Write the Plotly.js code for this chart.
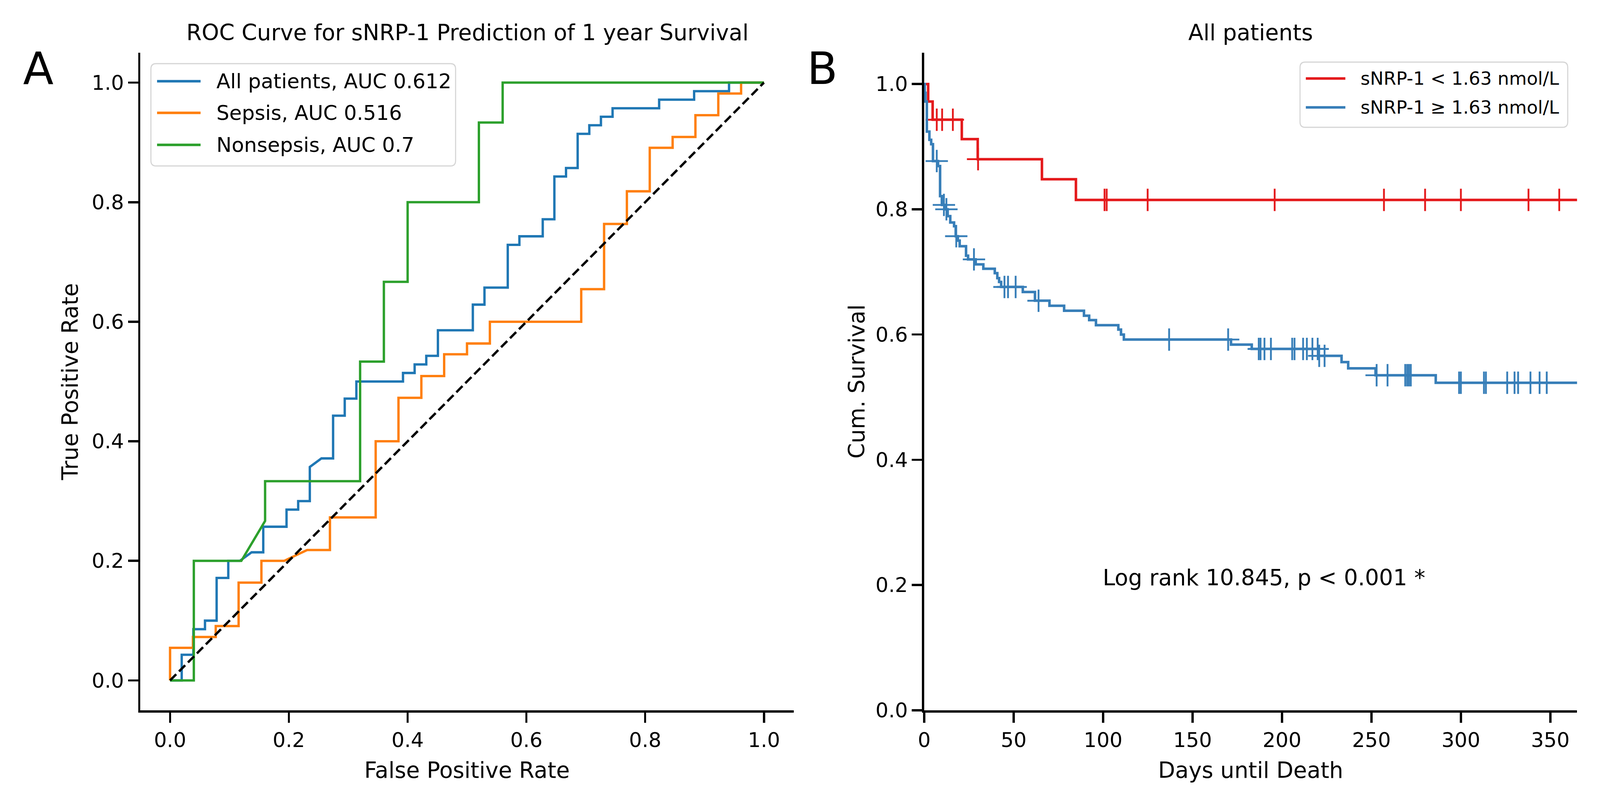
<!DOCTYPE html>
<html>
<head>
<meta charset="utf-8">
<script src="https://cdn.plot.ly/plotly-3.0.1.min.js"></script>
<style>html,body{margin:0;padding:0;background:#fff;overflow:hidden;}</style>
</head>
<body>
<div id="chart"></div>
<script>
// ---------------- DATA ----------------
// Panel A: ROC curves (false positive rate, true positive rate)
const rocAllFpr = [0, 0.0196, 0.0196, 0.0392, 0.0392, 0.0588, 0.0588, 0.0784, 0.0784, 0.0980, 0.0980, 0.1176, 0.1373, 0.1569, 0.1569, 0.1961, 0.1961, 0.2157, 0.2157, 0.2353, 0.2353, 0.2549, 0.2745, 0.2745, 0.2941, 0.2941, 0.3137, 0.3137, 0.3922, 0.3922, 0.4118, 0.4118, 0.4314, 0.4314, 0.4510, 0.4510, 0.5098, 0.5098, 0.5294, 0.5294, 0.5686, 0.5686, 0.5882, 0.5882, 0.6275, 0.6275, 0.6471, 0.6471, 0.6667, 0.6667, 0.6863, 0.6863, 0.7059, 0.7059, 0.7255, 0.7255, 0.7451, 0.7451, 0.8235, 0.8235, 0.8824, 0.8824, 0.9412, 0.9412, 1.0];
const rocAllTpr = [0, 0, 0.0429, 0.0429, 0.0857, 0.0857, 0.1000, 0.1000, 0.1714, 0.1714, 0.2000, 0.2000, 0.2143, 0.2143, 0.2571, 0.2571, 0.2857, 0.2857, 0.3000, 0.3000, 0.3571, 0.3714, 0.3714, 0.4429, 0.4429, 0.4714, 0.4714, 0.5000, 0.5000, 0.5143, 0.5143, 0.5286, 0.5286, 0.5429, 0.5429, 0.5857, 0.5857, 0.6286, 0.6286, 0.6571, 0.6571, 0.7286, 0.7286, 0.7429, 0.7429, 0.7714, 0.7714, 0.8429, 0.8429, 0.8571, 0.8571, 0.9143, 0.9143, 0.9286, 0.9286, 0.9429, 0.9429, 0.9571, 0.9571, 0.9714, 0.9714, 0.9857, 0.9857, 1.0, 1.0];

const rocSepsisFpr = [0, 0, 0.0385, 0.0385, 0.0769, 0.0769, 0.1154, 0.1154, 0.1538, 0.1538, 0.1923, 0.2308, 0.2692, 0.2692, 0.3462, 0.3462, 0.3846, 0.3846, 0.4231, 0.4231, 0.4615, 0.4615, 0.5000, 0.5000, 0.5385, 0.5385, 0.6923, 0.6923, 0.7308, 0.7308, 0.7692, 0.7692, 0.8077, 0.8077, 0.8462, 0.8462, 0.8846, 0.8846, 0.9231, 0.9231, 0.9615, 0.9615, 1.0];
const rocSepsisTpr = [0, 0.0545, 0.0545, 0.0727, 0.0727, 0.0909, 0.0909, 0.1636, 0.1636, 0.2000, 0.2000, 0.2182, 0.2182, 0.2727, 0.2727, 0.4000, 0.4000, 0.4727, 0.4727, 0.5091, 0.5091, 0.5455, 0.5455, 0.5636, 0.5636, 0.6000, 0.6000, 0.6545, 0.6545, 0.7636, 0.7636, 0.8182, 0.8182, 0.8909, 0.8909, 0.9091, 0.9091, 0.9455, 0.9455, 0.9818, 0.9818, 1.0, 1.0];

const rocNonFpr = [0, 0.04, 0.04, 0.12, 0.16, 0.16, 0.32, 0.32, 0.36, 0.36, 0.40, 0.40, 0.52, 0.52, 0.56, 0.56, 1.0];
const rocNonTpr = [0, 0, 0.2000, 0.2000, 0.2667, 0.3333, 0.3333, 0.5333, 0.5333, 0.6667, 0.6667, 0.8000, 0.8000, 0.9333, 0.9333, 1.0, 1.0];

const chanceX = [0, 1];
const chanceY = [0, 1];

const rocNames = ['All patients, AUC 0.612', 'Sepsis, AUC 0.516', 'Nonsepsis, AUC 0.7'];
const rocTicks = [0, 0.2, 0.4, 0.6, 0.8, 1.0];

// Panel B: Kaplan-Meier curves (step times in days, survival after each step)
const kmLowTimes = [0, 2.2, 4.7, 21.0, 29.9, 65.8, 84.8, 365];
const kmLowSurv  = [1.0, 0.972, 0.943, 0.912, 0.880, 0.848, 0.815, 0.815];
const kmLowCensor = [7.0, 10.0, 16.0, 30.1, 100.8, 102.0, 124.9, 195.9, 257.0, 280.0, 300.0, 337.8, 355.0];

const kmHighTimes = [0, 0.3, 0.7, 1.46, 2.89, 3.88, 4.88, 7.72, 8.86, 9.85, 11.7, 13.1, 14.55, 16.68, 17.6, 18.82, 19.81, 23.37, 24.51, 28.77, 33.04, 39.44, 40.86, 41.85, 43.0, 55.1, 61.9, 70.0, 78.2, 89.3, 92.2, 96.0, 108.5, 110.0, 111.6, 171.5, 183.1, 220.4, 233.3, 237.0, 252.3, 285.95, 365];
const kmHighSurv  = [1.0, 0.986, 0.972, 0.924, 0.911, 0.904, 0.877, 0.869, 0.821, 0.807, 0.800, 0.789, 0.779, 0.773, 0.757, 0.750, 0.741, 0.726, 0.720, 0.712, 0.705, 0.698, 0.690, 0.684, 0.676, 0.668, 0.654, 0.646, 0.638, 0.630, 0.623, 0.615, 0.608, 0.600, 0.592, 0.584, 0.577, 0.566, 0.556, 0.546, 0.535, 0.523, 0.523];
const kmHighCensor = [7.0, 11.0, 12.4, 17.9, 27.8, 44.85, 46.84, 51.1, 63.9, 136.9, 169.9, 187.0, 188.0, 190.2, 193.8, 205.7, 207.0, 211.8, 213.9, 217.0, 219.95, 220.8, 223.8, 252.9, 259.0, 268.9, 270.0, 271.0, 272.0, 299.0, 300.0, 312.9, 314.0, 325.9, 330.0, 332.0, 338.9, 344.0, 348.0];

const kmNames = ['sNRP-1 < 1.63 nmol/L', 'sNRP-1 \u2265 1.63 nmol/L'];
const dayTicks = [0, 50, 100, 150, 200, 250, 300, 350];
const survTicks = [0, 0.2, 0.4, 0.6, 0.8, 1.0];
const logRankText = 'Log rank 10.845, p < 0.001 *';
const titleA = 'ROC Curve for sNRP-1 Prediction of 1 year Survival';
const titleB = 'All patients';

// ---------------- STYLE / LAYOUT ----------------
const FONT = 'DejaVu Sans';
const rocColors = ['#1f77b4', '#ff7f0e', '#2ca02c'];
const kmColors = ['#e41a1c', '#377eb8'];
const DW = 4411, DH = 2041;                 // design size (reference pixels)
const VW = window.innerWidth || DW;
const VH = window.innerHeight || DH;
const sc = Math.min(VW / DW, VH / DH);      // scale from design px to css px
const S = v => v * sc;
const px = v => v / DW;
const py = v => 1 - v / DH;
document.getElementById('chart').style.width = VW + 'px';
document.getElementById('chart').style.height = VH + 'px';

function survAt(times, surv, t) {
  let s = surv[0];
  for (let i = 0; i < times.length; i++) { if (times[i] <= t) s = surv[i]; }
  return s;
}

const traces = [];
const rocSets = [[rocAllFpr, rocAllTpr], [rocSepsisFpr, rocSepsisTpr], [rocNonFpr, rocNonTpr]];
rocSets.forEach((d, i) => {
  traces.push({x: d[0], y: d[1], xaxis: 'x', yaxis: 'y', mode: 'lines', name: rocNames[i],
    line: {color: rocColors[i], width: S(6.5)}, hoverinfo: 'skip'});
});
traces.push({x: chanceX, y: chanceY, xaxis: 'x', yaxis: 'y', mode: 'lines', name: 'chance',
  line: {color: '#000', width: S(6.5), dash: S(24).toFixed(1) + 'px,' + S(11).toFixed(1) + 'px'}, hoverinfo: 'skip'});

const kmSets = [[kmLowTimes, kmLowSurv, kmLowCensor], [kmHighTimes, kmHighSurv, kmHighCensor]];
kmSets.forEach((d, i) => {
  traces.push({x: d[0], y: d[1], xaxis: 'x2', yaxis: 'y2', mode: 'lines', name: kmNames[i],
    line: {color: kmColors[i], width: S(7), shape: 'hv'}, hoverinfo: 'skip'});
  traces.push({x: d[2], y: d[2].map(t => survAt(d[0], d[1], t)), xaxis: 'x2', yaxis: 'y2', mode: 'markers',
    name: kmNames[i] + ' censored',
    marker: {symbol: 'cross-thin', size: S(44), color: kmColors[i], line: {color: kmColors[i], width: S(5)}}, hoverinfo: 'skip'});
});

function axisBase() {
  return {ticks: 'outside', ticklen: S(28), tickwidth: S(6), tickcolor: '#000', showline: true, linewidth: S(6),
    linecolor: '#000', showgrid: false, zeroline: false, tickfont: {family: FONT, size: S(56), color: '#000'},
    fixedrange: true};
}
const yDom = [1 - 1819 / DH, 1 - 135 / DH];
const titleFont = {family: FONT, size: S(61), color: '#000'};

const xA = Object.assign(axisBase(), {domain: [px(387), px(2188)], range: [-0.05, 1.05], tickvals: rocTicks,
  tickformat: '.1f', anchor: 'y', title: {text: 'False Positive Rate', font: titleFont, standoff: S(32)}});
const yA = Object.assign(axisBase(), {domain: yDom, range: [-0.05, 1.05], tickvals: rocTicks,
  tickformat: '.1f', anchor: 'x', title: {text: 'True Positive Rate', font: titleFont, standoff: S(20)}});
const xB = Object.assign(axisBase(), {domain: [px(2548), px(4348)], range: [0, 365], tickvals: dayTicks,
  anchor: 'y2', title: {text: 'Days until Death', font: titleFont, standoff: S(32)}});
const yB = Object.assign(axisBase(), {domain: yDom, range: [0, 1.05], tickvals: survTicks,
  tickformat: '.1f', anchor: 'x2', title: {text: 'Cum. Survival', font: titleFont, standoff: S(12)}});

function roundRect(x0, y0, x1, y1, r) {
  const X = v => px(v).toFixed(6), Y = v => py(v).toFixed(6);
  return 'M' + X(x0 + r) + ',' + Y(y0) + ' L' + X(x1 - r) + ',' + Y(y0) +
    ' Q' + X(x1) + ',' + Y(y0) + ' ' + X(x1) + ',' + Y(y0 + r) +
    ' L' + X(x1) + ',' + Y(y1 - r) + ' Q' + X(x1) + ',' + Y(y1) + ' ' + X(x1 - r) + ',' + Y(y1) +
    ' L' + X(x0 + r) + ',' + Y(y1) + ' Q' + X(x0) + ',' + Y(y1) + ' ' + X(x0) + ',' + Y(y1 - r) +
    ' L' + X(x0) + ',' + Y(y0 + r) + ' Q' + X(x0) + ',' + Y(y0) + ' ' + X(x0 + r) + ',' + Y(y0) + ' Z';
}

const shapes = [];
const annotations = [];
function addLegend(box, rowsY, lineX, textX, names, colors, fsize) {
  shapes.push({type: 'path', xref: 'paper', yref: 'paper', path: roundRect(box[0], box[1], box[2], box[3], 14),
    fillcolor: 'rgba(255,255,255,0.8)', line: {color: '#d5d5d5', width: S(3)}, layer: 'above'});
  names.forEach((n, i) => {
    shapes.push({type: 'line', xref: 'paper', yref: 'paper', x0: px(lineX[0]), x1: px(lineX[1]),
      y0: py(rowsY[i]), y1: py(rowsY[i]), line: {color: colors[i], width: S(7)}, layer: 'above'});
    annotations.push({xref: 'paper', yref: 'paper', x: px(textX), y: py(rowsY[i]), xanchor: 'left', yanchor: 'middle',
      text: n, showarrow: false, font: {family: FONT, size: S(fsize), color: '#000'}});
  });
}
addLegend([416, 163, 1256, 425], [208, 289, 371], [433, 553], 594, rocNames, rocColors, 56);
addLegend([3584, 159, 4322, 326], [201, 275], [3600, 3709], 3749, kmNames, kmColors, 50);

annotations.push({xref: 'paper', yref: 'paper', x: px(1288), y: py(83), xanchor: 'center', yanchor: 'middle',
  text: titleA, showarrow: false, font: titleFont});
annotations.push({xref: 'paper', yref: 'paper', x: px(3448), y: py(83), xanchor: 'center', yanchor: 'middle',
  text: titleB, showarrow: false, font: titleFont});
annotations.push({xref: 'paper', yref: 'paper', x: px(105), y: py(175), xanchor: 'center', yanchor: 'middle',
  text: 'A', showarrow: false, font: {family: FONT, size: S(123), color: '#000'}});
annotations.push({xref: 'paper', yref: 'paper', x: px(2267), y: py(175), xanchor: 'center', yanchor: 'middle',
  text: 'B', showarrow: false, font: {family: FONT, size: S(123), color: '#000'}});
annotations.push({xref: 'x2', yref: 'y2', x: 190, y: 0.212, xanchor: 'center', yanchor: 'middle',
  text: logRankText, showarrow: false, font: {family: FONT, size: S(61), color: '#000'}});

const layout = {
  width: VW, height: VH, margin: {l: 0, r: 0, t: 0, b: 0},
  paper_bgcolor: '#ffffff', plot_bgcolor: '#ffffff', showlegend: false,
  font: {family: FONT, size: S(56), color: '#000'},
  xaxis: xA, yaxis: yA, xaxis2: xB, yaxis2: yB,
  shapes: shapes, annotations: annotations
};

Plotly.newPlot('chart', traces, layout, {staticPlot: true, displayModeBar: false});
</script>
</body>
</html>
